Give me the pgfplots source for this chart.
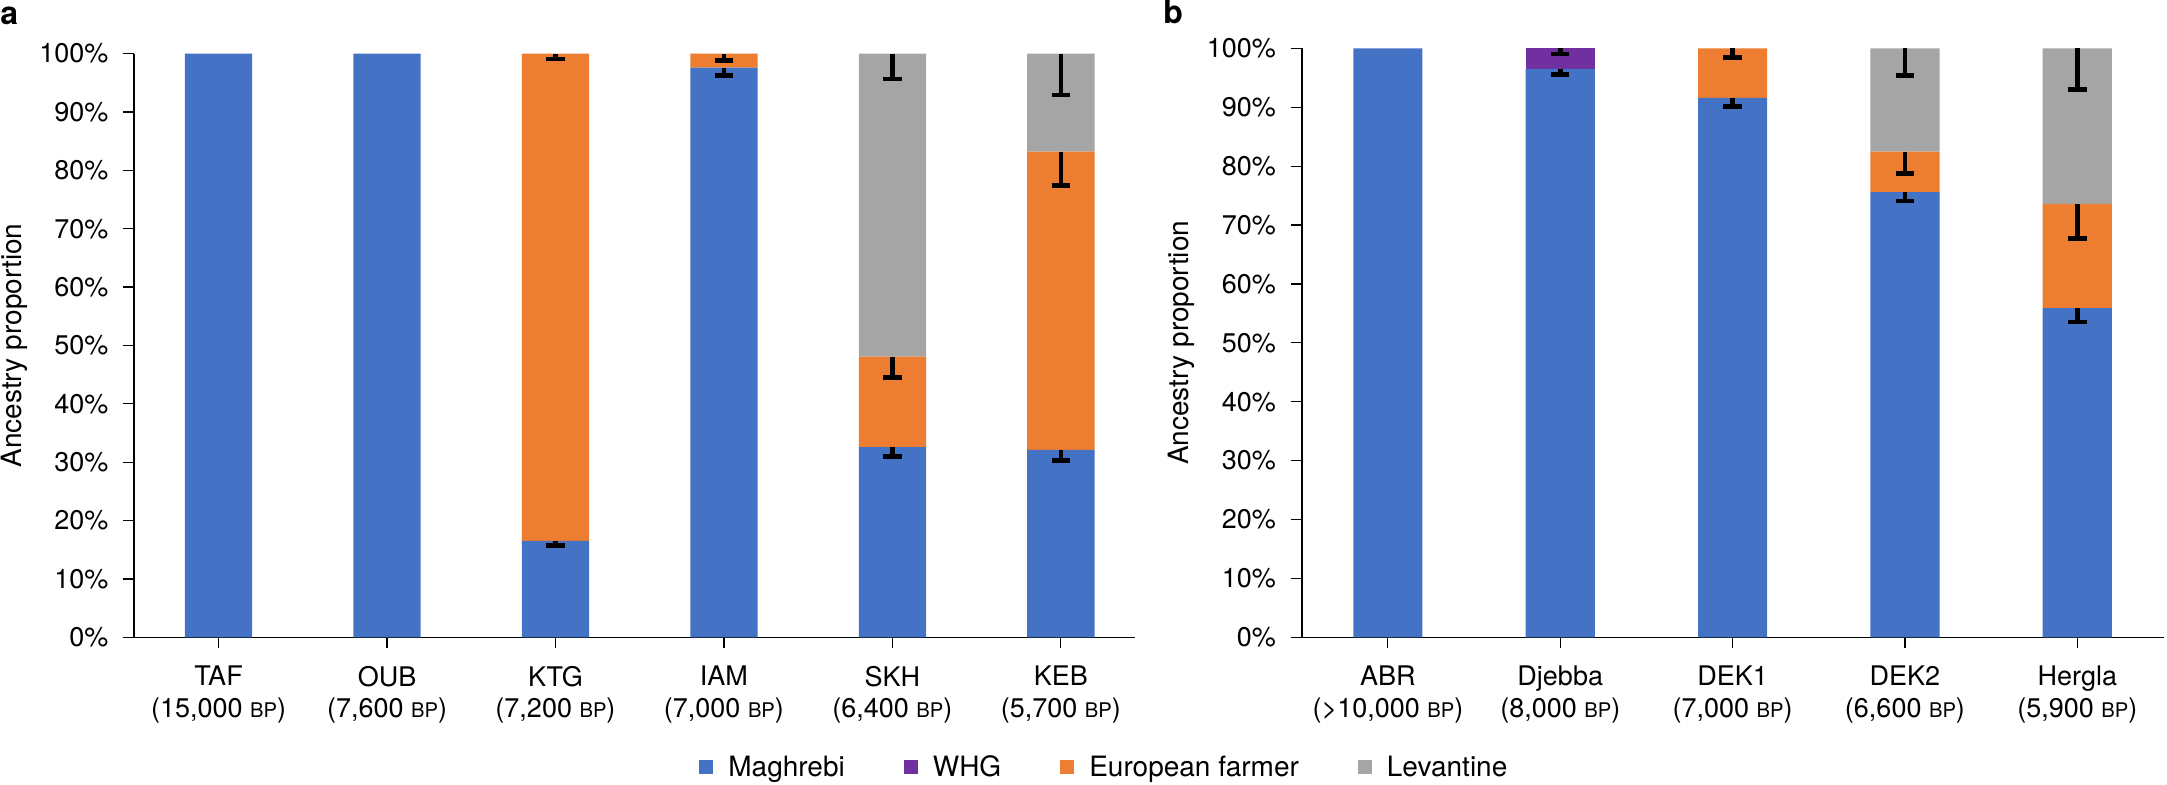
\documentclass[border=0pt]{standalone}
\usepackage{pgfplots}
\pgfplotsset{compat=1.18}
\usepackage{fontspec}
\setmainfont{TeX Gyre Heros}
\definecolor{cM}{HTML}{4472C4}
\definecolor{cW}{HTML}{7030A0}
\definecolor{cE}{HTML}{ED7D31}
\definecolor{cL}{HTML}{A5A5A5}
\newcommand\bp{{\fontsize{10.1pt}{10pt}\selectfont BP}}
\pgfplotsset{
  base/.style={
    scale only axis, enlargelimits=false, ymin=0, ymax=100,
    axis lines=left, axis line style={-, black, line width=0.8pt},
    tick align=outside, major tick length=5.5pt,
    tick style={black, line width=0.6pt},
    ytick={0,10,...,100},
    yticklabels={0\%,10\%,20\%,30\%,40\%,50\%,60\%,70\%,80\%,90\%,100\%},
    yticklabel style={font=\fontsize{13.5pt}{15pt}\selectfont, inner sep=0pt, xshift=-7.2pt},
    xticklabel style={align=center, font=\fontsize{13.5pt}{15.65pt}\selectfont, inner sep=0pt, yshift=-8.7pt},
    ylabel={Ancestry proportion},
    label style={font=\fontsize{14pt}{16pt}\selectfont},
  },
  ov/.style={scale only axis, ymin=0, ymax=100, hide axis, clip=false},
  eb/.style={draw=none, mark=none, forget plot,
    error bars/.cd, y dir=minus, y explicit,
    error bar style={draw=black, line width=2.3pt},
    error mark=-,
    error mark options={rotate=90, draw=black, fill=black, line width=2.3pt, mark size=4.6pt}},
}
\begin{document}
\begin{tikzpicture}
\path[use as bounding box] (0,0) rectangle (1083.5pt,392pt);
\node[anchor=base west, inner sep=0pt, font=\fontsize{16pt}{16pt}\selectfont\bfseries] at (0pt,379.5pt) {a};
\node[anchor=base west, inner sep=0pt, font=\fontsize{16pt}{16pt}\selectfont\bfseries] at (581.5pt,380pt) {b};

% ---------- panel a ----------
\begin{axis}[base, ybar stacked, at={(67.15pt,73.35pt)}, anchor=south west,
  width=500.35pt, height=291.85pt, xmin=-0.5, xmax=5.44, bar width=33.65pt,
  xtick={0,...,5},
  xticklabels={{TAF\\(15,000 \bp)},{OUB\\(7,600 \bp)},{KTG\\(7,200 \bp)},{IAM\\(7,000 \bp)},{SKH\\(6,400 \bp)},{KEB\\(5,700 \bp)}},
  ylabel style={at={(axis description cs:-0.1199,0.5)}, anchor=center},
  legend columns=4,
  legend image code/.code={\fill[#1] (0pt,-3.5pt) rectangle (7pt,3.5pt);},
  legend style={at={(0.5643,-0.2227)}, anchor=west, draw=none, fill=none,
    inner sep=0pt, font=\fontsize{14pt}{16pt}\selectfont, nodes={inner sep=0pt},
    /tikz/every odd column/.append style={column sep=7.5pt},
    /tikz/every even column/.append style={column sep=29.5pt}},
]
\addplot[fill=cM, draw=none] coordinates {(0,100) (1,100) (2,16.5) (3,97.6) (4,32.6) (5,32.1)};
\addplot[fill=cW, draw=none] coordinates {(0,0) (1,0) (2,0) (3,0) (4,0) (5,0)};
\addplot[fill=cE, draw=none] coordinates {(0,0) (1,0) (2,83.5) (3,2.4) (4,15.5) (5,51.1)};
\addplot[fill=cL, draw=none] coordinates {(0,0) (1,0) (2,0) (3,0) (4,51.9) (5,16.8)};
\legend{Maghrebi, WHG, European farmer, Levantine}
\end{axis}
\begin{axis}[ov, at={(67.15pt,73.35pt)}, anchor=south west,
  width=500.35pt, height=291.85pt, xmin=-0.5, xmax=5.44]
\addplot[eb] coordinates {
  (2,16.5) -= (0,0.8)  (2,100) -= (0,0.9)
  (3,97.6) -= (0,1.4)  (3,100) -= (0,1.2)
  (4,32.6) -= (0,1.65) (4,48.1) -= (0,3.6) (4,100) -= (0,4.35)
  (5,32.1) -= (0,1.85) (5,83.2) -= (0,5.8) (5,100) -= (0,7.1)
};
\end{axis}

% ---------- panel b ----------
\begin{axis}[base, ybar stacked, at={(650.85pt,73.35pt)}, anchor=south west,
  width=430.9pt, height=294.5pt, xmin=-0.5, xmax=4.5, bar width=34.6pt,
  xtick={0,...,4},
  xticklabels={{ABR\\(>10,000 \bp)},{Djebba\\(8,000 \bp)},{DEK1\\(7,000 \bp)},{DEK2\\(6,600 \bp)},{Hergla\\(5,900 \bp)}},
  ylabel style={at={(axis description cs:-0.1392,0.5)}, anchor=center},
]
\addplot[fill=cM, draw=none] coordinates {(0,100) (1,96.5) (2,91.6) (3,75.6) (4,55.9)};
\addplot[fill=cW, draw=none] coordinates {(0,0) (1,3.5) (2,0) (3,0) (4,0)};
\addplot[fill=cE, draw=none] coordinates {(0,0) (1,0) (2,8.4) (3,6.85) (4,17.7)};
\addplot[fill=cL, draw=none] coordinates {(0,0) (1,0) (2,0) (3,17.55) (4,26.4)};
\end{axis}
\begin{axis}[ov, at={(650.85pt,73.35pt)}, anchor=south west,
  width=430.9pt, height=294.5pt, xmin=-0.5, xmax=4.5]
\addplot[eb] coordinates {
  (1,96.5) -= (0,0.9)  (1,100) -= (0,0.95)
  (2,91.6) -= (0,1.45) (2,100) -= (0,1.6)
  (3,75.6) -= (0,1.55) (3,82.45) -= (0,3.75) (3,100) -= (0,4.65)
  (4,55.9) -= (0,2.4)  (4,73.6) -= (0,5.9) (4,100) -= (0,6.95)
};
\end{axis}
\end{tikzpicture}
\end{document}
